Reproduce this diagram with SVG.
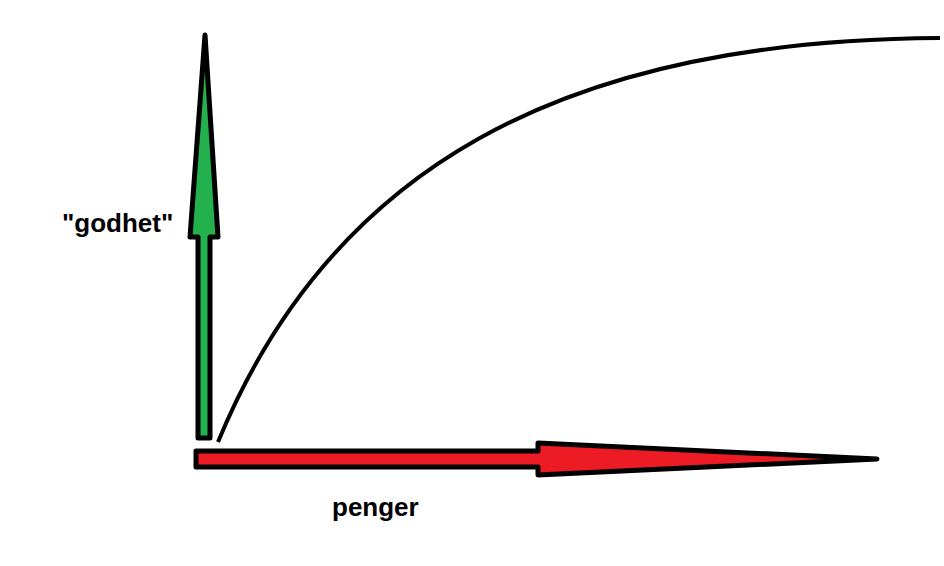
<svg xmlns="http://www.w3.org/2000/svg" width="944" height="566" viewBox="0 0 944 566">
<style>
.arr{stroke:#000;stroke-width:5;stroke-linejoin:round}
.lbl{font-family:"Liberation Sans",Arial,sans-serif;font-weight:bold;font-size:26px;fill:#000}
</style>
<rect width="944" height="566" fill="#fff"/>
<g id="connectors">
<path id="curve" d="M218,442 C330,170 560,40 940,38" fill="none" stroke="#000" stroke-width="4"/>
</g>
<g id="y-axis">
<path class="arr" fill="#22b14c" d="M198,438 L198,237 L190,237 L205,35 L218,237 L210,237 L210,438 Z"/>
</g>
<g id="x-axis">
<path class="arr" fill="#ed1c24" d="M196,451 L538,451 L538,443 L877,459 L538,475 L538,467 L196,467 Z"/>
</g>
<g id="label-godhet"><text class="lbl" x="62" y="232">"godhet"</text></g>
<g id="label-penger"><text class="lbl" x="332" y="516">penger</text></g>
</svg>
